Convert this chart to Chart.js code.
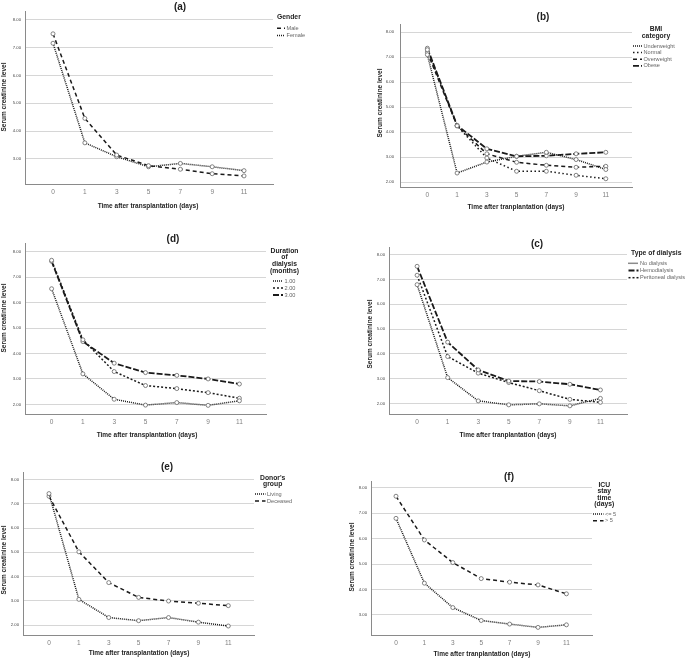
<!DOCTYPE html>
<html>
<head>
<meta charset="utf-8">
<script src="https://cdn.jsdelivr.net/npm/chart.js@4.4.0/dist/chart.umd.min.js"></script>
<style>
html, body { margin: 0; padding: 0; background: #fff; }
#wrap { position: relative; width: 685px; height: 659px; }
#wrap canvas { position: absolute; left: 0; top: 0; }
</style>
</head>
<body>
<div id="wrap"></div>
<script>
/* ---------- data ---------- */
const dayLabels = ['0', '1', '3', '5', '7', '9', '11'];
const yTickValues = [2, 3, 4, 5, 6, 7, 8];

// (a) gender
const genderNames = ['Male', 'Female'];
const maleLevel = [7.50, 4.46, 3.14, 2.76, 2.63, 2.47, 2.39];
const femaleLevel = [7.16, 3.58, 3.08, 2.72, 2.84, 2.72, 2.58];

// (b) BMI category
const bmiNames = ['Underweight', 'Normal', 'Overweight', 'Obese'];
const underweightLevel = [7.10, 2.36, 2.80, 3.03, 3.19, 2.90, 2.50];
const normalLevel = [7.30, 4.25, 2.96, 2.43, 2.43, 2.27, 2.13];
const overweightLevel = [7.20, 4.25, 3.13, 2.79, 2.67, 2.59, 2.63];
const obeseLevel = [7.36, 4.27, 3.33, 3.03, 3.05, 3.13, 3.19];

// (d) duration of dialysis
const durationNames = ['1.00', '2.00', '3.00'];
const dur1Level = [6.55, 3.20, 2.20, 1.97, 2.07, 1.96, 2.14];
const dur2Level = [7.67, 4.54, 3.29, 2.74, 2.62, 2.46, 2.24];
const dur3Level = [7.63, 4.47, 3.62, 3.25, 3.14, 3.00, 2.80];

// (c) type of dialysis
const dialysisNames = ['No dialysis', 'Hemodialysis', 'Peritoneal dialysis'];
const noDialysisLevel = [6.79, 3.04, 2.10, 1.94, 1.98, 1.90, 2.20];
const hemoLevel = [7.53, 4.47, 3.35, 2.90, 2.88, 2.77, 2.54];
const peritonealLevel = [7.17, 3.89, 3.22, 2.84, 2.51, 2.16, 2.04];

// (e) donor's group
const donorNames = ['Living', 'Deceased'];
const livingLevel = [7.42, 3.06, 2.31, 2.18, 2.31, 2.12, 1.96];
const deceasedLevel = [7.31, 5.02, 3.75, 3.14, 2.99, 2.90, 2.80];

// (f) ICU stay time
const icuNames = ['<= 5', '> 5'];
const icuShortLevel = [6.80, 4.25, 3.29, 2.78, 2.64, 2.51, 2.61];
const icuLongLevel = [7.67, 5.95, 5.06, 4.43, 4.29, 4.18, 3.83];

/* ---------- styles ---------- */
const FONT = '"Liberation Sans", Arial, sans-serif';
Chart.defaults.font.family = FONT;
const DOTTED = [1, 1];
const SPARSE = [1.5, 2.5];
const SQUARE = [2, 2];
const DASHED = [4, 3];
const LONGDASH = [6, 2];
const W = 685, H = 659;

/* ---------- text drawn around each panel ---------- */
function panelText(p) {
    return {
        id: 'panelText',
        afterDraw(chart) {
            const ctx = chart.ctx;
            ctx.save();
            ctx.fillStyle = '#1e1e1e';
            ctx.textBaseline = 'middle';
            ctx.textAlign = 'center';

            // panel title
            ctx.font = 'bold 10px ' + FONT;
            ctx.fillText(p.title, p.titleX, p.titleY);

            // axis titles
            ctx.font = 'bold 6.5px ' + FONT;
            ctx.fillText(p.xTitle, p.xTitleX, p.xTitleY);
            ctx.save();
            ctx.translate(p.yTitleX, p.yTitleY);
            ctx.rotate(-Math.PI / 2);
            ctx.fillText('Serum creatinine level', 0, 0);
            ctx.restore();

            // legend title
            const lg = p.legend;
            ctx.font = 'bold 6.8px ' + FONT;
            ctx.textAlign = lg.align;
            lg.title.forEach((t, i) => ctx.fillText(t, lg.tx, lg.ty + i * lg.tGap));

            // legend items, styled from the datasets
            ctx.font = '5.6px ' + FONT;
            ctx.textAlign = 'left';
            chart.data.datasets.forEach((ds, i) => {
                const y = lg.iy + i * lg.iGap;
                ctx.save();
                ctx.strokeStyle = ds.borderColor;
                ctx.lineWidth = ds.borderWidth;
                ctx.setLineDash(ds.borderDash);
                ctx.beginPath();
                ctx.moveTo(lg.sx, y);
                ctx.lineTo(lg.sx + lg.sw, y);
                ctx.stroke();
                ctx.restore();
                ctx.fillStyle = '#666';
                ctx.fillText(ds.label, lg.sx + lg.sw + 1.5, y);
            });
            ctx.restore();
        }
    };
}

/* ---------- one chart per panel ---------- */
function drawPanel(p) {
    const canvas = document.createElement('canvas');
    canvas.width = W;
    canvas.height = H;
    document.getElementById('wrap').appendChild(canvas);

    const datasets = p.series.map(s => ({
        label: s.name,
        data: s.values.map((v, i) => ({ x: i, y: v })),
        borderColor: '#1a1a1a',
        borderWidth: s.width || 1.5,
        borderDash: s.dash,
        fill: false,
        tension: 0,
        pointRadius: 2,
        pointBorderWidth: 0.8,
        pointBorderColor: '#666',
        pointBackgroundColor: '#fff'
    }));

    new Chart(canvas, {
        type: 'line',
        data: { datasets: datasets },
        options: {
            responsive: false,
            animation: false,
            devicePixelRatio: 1,
            layout: {
                padding: {
                    left: p.area.l - 22,
                    top: p.area.t,
                    right: W - p.area.r,
                    bottom: H - p.area.b - 14
                }
            },
            plugins: {
                legend: { display: false },
                tooltip: { enabled: false }
            },
            scales: {
                x: {
                    type: 'linear',
                    min: p.xMin,
                    max: p.xMax,
                    afterFit: s => { s.height = 14; },
                    afterBuildTicks: s => { s.ticks = dayLabels.map((d, i) => ({ value: i })); },
                    ticks: {
                        callback: v => dayLabels[v],
                        color: '#808080',
                        font: { size: 6.5 },
                        padding: 4,
                        autoSkip: false,
                        maxRotation: 0
                    },
                    grid: { display: false, drawTicks: false },
                    border: { color: '#8a8a8a' }
                },
                y: {
                    min: p.yMin,
                    max: p.yMax,
                    afterFit: s => { s.width = 22; },
                    afterBuildTicks: s => {
                        s.ticks = yTickValues.filter(v => v >= s.min).map(v => ({ value: v }));
                    },
                    ticks: {
                        callback: v => v.toFixed(2),
                        color: '#444',
                        font: { size: 4.2 },
                        padding: p.yPad || 4
                    },
                    grid: { color: '#d6d6d6', drawTicks: false },
                    border: { color: '#8a8a8a' }
                }
            }
        },
        plugins: [panelText(p)]
    });
}

const xTitleA = 'Time after transplantation (days)';
const xTitleB = 'Time after tranplantation (days)';

drawPanel({
    title: '(a)', titleX: 180, titleY: 7,
    area: { l: 25, t: 11, r: 273, b: 184 }, xMin: -0.88, xMax: 6.91, yMin: 2.10, yMax: 8.32,
    xTitle: xTitleA, xTitleX: 148, xTitleY: 206, yTitleX: 4.5, yTitleY: 97,
    series: [
        { name: genderNames[0], values: maleLevel, dash: DASHED },
        { name: genderNames[1], values: femaleLevel, dash: DOTTED }
    ],
    legend: { title: ['Gender'], align: 'left', tx: 277, ty: 17.5, tGap: 7, sx: 277, sw: 8, iy: 28.3, iGap: 7.2 }
});

drawPanel({
    title: '(b)', titleX: 543, titleY: 17,
    area: { l: 400, t: 24, r: 632, b: 187 }, xMin: -0.92, xMax: 6.88, yMin: 1.80, yMax: 8.33, yPad: 6,
    xTitle: xTitleB, xTitleX: 516, xTitleY: 207, yTitleX: 380, yTitleY: 103,
    series: [
        { name: bmiNames[0], values: underweightLevel, dash: DOTTED },
        { name: bmiNames[1], values: normalLevel, dash: SPARSE },
        { name: bmiNames[2], values: overweightLevel, dash: DASHED },
        { name: bmiNames[3], values: obeseLevel, dash: LONGDASH, width: 1.8 }
    ],
    legend: { title: ['BMI', 'category'], align: 'center', tx: 656, ty: 29.5, tGap: 6.7, sx: 633, sw: 9, iy: 46, iGap: 6.6 }
});

drawPanel({
    title: '(d)', titleX: 173, titleY: 239,
    area: { l: 25, t: 243, r: 266, b: 414 }, xMin: -0.85, xMax: 6.85, yMin: 1.62, yMax: 8.35,
    xTitle: xTitleA, xTitleX: 147, xTitleY: 435, yTitleX: 4.5, yTitleY: 318,
    series: [
        { name: durationNames[0], values: dur1Level, dash: DOTTED },
        { name: durationNames[1], values: dur2Level, dash: SQUARE },
        { name: durationNames[2], values: dur3Level, dash: LONGDASH, width: 1.8 }
    ],
    legend: { title: ['Duration', 'of', 'dialysis', '(months)'], align: 'center', tx: 284.5, ty: 250.7, tGap: 6.8, sx: 273, sw: 10, iy: 281, iGap: 7 }
});

drawPanel({
    title: '(c)', titleX: 537, titleY: 244,
    area: { l: 389, t: 247, r: 627, b: 414 }, xMin: -0.92, xMax: 6.87, yMin: 1.57, yMax: 8.31,
    xTitle: xTitleB, xTitleX: 508, xTitleY: 435, yTitleX: 370, yTitleY: 334,
    series: [
        { name: dialysisNames[0], values: noDialysisLevel, dash: DOTTED },
        { name: dialysisNames[1], values: hemoLevel, dash: LONGDASH, width: 1.8 },
        { name: dialysisNames[2], values: peritonealLevel, dash: SQUARE }
    ],
    legend: { title: ['Type of dialysis'], align: 'left', tx: 631, ty: 253.3, tGap: 7, sx: 628.5, sw: 10, iy: 263.3, iGap: 7.2 }
});

drawPanel({
    title: '(e)', titleX: 167, titleY: 467,
    area: { l: 23, t: 472, r: 254, b: 635 }, xMin: -0.87, xMax: 6.86, yMin: 1.59, yMax: 8.31,
    xTitle: xTitleA, xTitleX: 139, xTitleY: 653, yTitleX: 4.5, yTitleY: 560,
    series: [
        { name: donorNames[0], values: livingLevel, dash: DOTTED },
        { name: donorNames[1], values: deceasedLevel, dash: DASHED }
    ],
    legend: { title: ["Donor's", 'group'], align: 'center', tx: 272.7, ty: 477.7, tGap: 6.7, sx: 255, sw: 10.5, iy: 494, iGap: 7 }
});

drawPanel({
    title: '(f)', titleX: 509, titleY: 477,
    area: { l: 371, t: 481, r: 592, b: 635 }, xMin: -0.88, xMax: 6.9, yMin: 2.21, yMax: 8.27,
    xTitle: xTitleB, xTitleX: 482, xTitleY: 654, yTitleX: 352, yTitleY: 557,
    series: [
        { name: icuNames[0], values: icuShortLevel, dash: DOTTED },
        { name: icuNames[1], values: icuLongLevel, dash: DASHED }
    ],
    legend: { title: ['ICU', 'stay', 'time', '(days)'], align: 'center', tx: 604.3, ty: 485, tGap: 6.4, sx: 593, sw: 10.5, iy: 514, iGap: 6.8 }
});
</script>
</body>
</html>
